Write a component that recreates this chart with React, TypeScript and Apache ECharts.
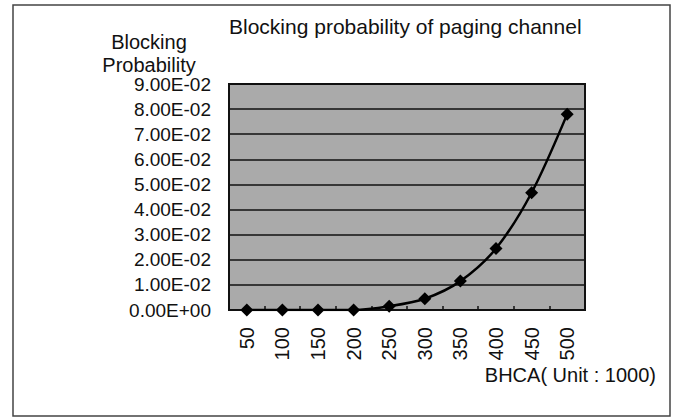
import React, { useEffect, useRef } from "react";
import * as echarts from "echarts";

const categories = ["50", "100", "150", "200", "250", "300", "350", "400", "450", "500"];
const blockingProbability = [0, 0, 0, 0, 0.0015, 0.0045, 0.0115, 0.0245, 0.0467, 0.078];
const yTickLabels = [
  "0.00E+00", "1.00E-02", "2.00E-02", "3.00E-02", "4.00E-02",
  "5.00E-02", "6.00E-02", "7.00E-02", "8.00E-02", "9.00E-02",
];
const chartTitle = "Blocking probability of paging channel";
const yAxisTitleLines = ["Blocking", "Probability"];
const xAxisTitle = "BHCA( Unit : 1000)";

const FONT = "'Liberation Sans', Arial, sans-serif";
const INK = "#111";

export default function App() {
  const ref = useRef<HTMLDivElement>(null);
  useEffect(() => {
    document.body.style.margin = "0";
    if (!ref.current) return;
    const chart = echarts.init(ref.current, undefined, { renderer: "svg" });
    chart.setOption({
      animation: false,
      backgroundColor: "#ffffff",
      textStyle: { fontFamily: FONT, color: INK },
      title: {
        text: chartTitle,
        left: 224,
        top: 11,
        textStyle: { fontFamily: FONT, fontSize: 21, fontWeight: "normal", color: INK },
      },
      grid: {
        left: 229,
        right: 98,
        top: 84,
        bottom: 107,
        show: true,
        backgroundColor: "#aaaaaa",
        borderColor: "#111",
        borderWidth: 2,
      },
      xAxis: {
        type: "category",
        data: categories,
        boundaryGap: true,
        axisLine: { show: true, lineStyle: { color: "#111", width: 2 } },
        axisTick: { show: true, inside: true, length: 4, lineStyle: { color: "#111", width: 1.5 } },
        axisLabel: {
          rotate: 90,
          margin: 17,
          fontFamily: FONT,
          fontSize: 20,
          color: INK,
          interval: 0,
        },
        splitLine: { show: false },
      },
      yAxis: {
        type: "value",
        min: 0,
        max: 0.09,
        interval: 0.01,
        axisLine: { show: true, lineStyle: { color: "#111", width: 2 } },
        axisTick: { show: false },
        axisLabel: {
          margin: 18,
          fontFamily: FONT,
          fontSize: 19,
          color: INK,
          formatter: (v: number) => yTickLabels[Math.round(v / 0.01)] ?? "",
        },
        splitLine: { show: true, lineStyle: { color: "#111", width: 1.5 } },
      },
      graphic: [
        {
          type: "rect",
          shape: { x: 13, y: 5, width: 657, height: 411 },
          style: { fill: "none", stroke: "#444", lineWidth: 1.5 },
          silent: true,
          z: -1,
        },
        {
          type: "text",
          x: 149,
          y: 42,
          style: { text: yAxisTitleLines[0], fontFamily: FONT, fontSize: 20, fill: INK, align: "center", verticalAlign: "middle" },
        },
        {
          type: "text",
          x: 149,
          y: 65,
          style: { text: yAxisTitleLines[1], fontFamily: FONT, fontSize: 20, fill: INK, align: "center", verticalAlign: "middle" },
        },
        {
          type: "text",
          x: 656,
          y: 375,
          style: { text: xAxisTitle, fontFamily: FONT, fontSize: 20, fill: INK, align: "right", verticalAlign: "middle" },
        },
      ],
      series: [
        {
          type: "line",
          data: blockingProbability,
          smooth: 0.3,
          symbol: "diamond",
          symbolSize: 13,
          itemStyle: { color: "#000" },
          lineStyle: { color: "#000", width: 2.5 },
        },
      ],
    });
    return () => chart.dispose();
  }, []);
  return <div ref={ref} style={{ width: 683, height: 417 }} />;
}
